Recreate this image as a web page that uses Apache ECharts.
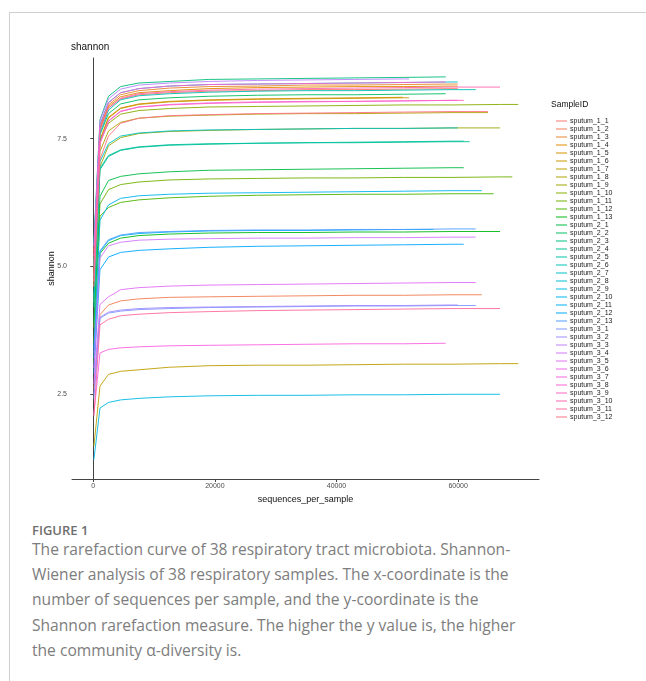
<!DOCTYPE html>
<html>
<head>
<meta charset="utf-8">
<script src="https://cdn.jsdelivr.net/npm/echarts@6/dist/echarts.min.js"></script>
<style>
  body { margin: 0; background: #fff; }
  #page { position: relative; width: 646px; height: 681px; overflow: hidden; }
  #chart { position: absolute; left: 0; top: 0; width: 646px; height: 510px; }
  .frame-top { position: absolute; left: 9px; top: 12px; width: 640px; height: 0; border-top: 1px solid #cfcfcf; }
  .frame-left { position: absolute; left: 9px; top: 12px; width: 0; height: 680px; border-left: 1px solid #cfcfcf; }
  #fig { position: absolute; left: 32px; top: 521px; font-family: "Open Sans", sans-serif; font-size: 13px; font-weight: 600; color: #6e6e6e; }
  #caption { position: absolute; left: 32px; top: 537px; width: 600px; font-family: "Open Sans", sans-serif; font-size: 15.6px; line-height: 25.2px; color: #7d7d7d; }
</style>
</head>
<body>
<div id="page">
  <div class="frame-top"></div>
  <div class="frame-left"></div>
  <div id="chart"></div>
  <div id="fig">FIGURE 1</div>
  <div id="caption">The rarefaction curve of 38 respiratory tract microbiota. Shannon-<br>Wiener analysis of 38 respiratory samples. The x-coordinate is the<br>number of sequences per sample, and the y-coordinate is the<br>Shannon rarefaction measure. The higher the y value is, the higher<br>the community α-diversity is.</div>
</div>
<script>
// rarefaction depths; the last value of each sample is drawn at its own end depth
const depthSteps = [100, 1100, 2500, 4500, 7500, 12500, 19000, 27000, 35000, 43000, 51000, 59000, 67000];

const sampleIds = [
  'sputum_1_1', 'sputum_1_2', 'sputum_1_3', 'sputum_1_4', 'sputum_1_5', 'sputum_1_6', 'sputum_1_7',
  'sputum_1_8', 'sputum_1_9', 'sputum_1_10', 'sputum_1_11', 'sputum_1_12', 'sputum_1_13',
  'sputum_2_1', 'sputum_2_2', 'sputum_2_3', 'sputum_2_4', 'sputum_2_5', 'sputum_2_6', 'sputum_2_7',
  'sputum_2_8', 'sputum_2_9', 'sputum_2_10', 'sputum_2_11', 'sputum_2_12', 'sputum_2_13',
  'sputum_3_1', 'sputum_3_2', 'sputum_3_3', 'sputum_3_4', 'sputum_3_5', 'sputum_3_6', 'sputum_3_7',
  'sputum_3_8', 'sputum_3_9', 'sputum_3_10', 'sputum_3_11', 'sputum_3_12'
];

const endDepths = [
  59930, 63880, 59930, 59930, 50940, 51930, 69890, 64910, 66890, 69890, 68910, 65850, 66890,
  60920, 57960, 57960, 61900, 60920, 62890, 59930, 59930, 66890, 63880, 55920, 60920, 62890,
  62890, 59930, 51930, 62890, 62890, 59930, 57960, 57960, 60920, 66890, 66890, 64910
];

const shannonValues = [
  [5.0, 7.68, 8.10, 8.28, 8.36, 8.40, 8.43, 8.44, 8.46, 8.46, 8.47, 8.48, 8.48],
  [2.6, 4.05, 4.24, 4.32, 4.36, 4.39, 4.40, 4.41, 4.42, 4.43, 4.43, 4.44, 4.44],
  [5.3, 7.73, 8.16, 8.36, 8.44, 8.49, 8.52, 8.53, 8.55, 8.55, 8.56, 8.57, 8.57],
  [5.1, 7.70, 8.13, 8.32, 8.40, 8.44, 8.48, 8.50, 8.51, 8.52, 8.52, 8.53, 8.53],
  [4.9, 7.48, 7.92, 8.10, 8.18, 8.23, 8.26, 8.28, 8.29, 8.30, 8.31],
  [4.8, 7.45, 7.90, 8.09, 8.17, 8.22, 8.25, 8.27, 8.28, 8.29, 8.30, 8.30],
  [1.47, 2.65, 2.88, 2.94, 2.97, 3.02, 3.05, 3.06, 3.06, 3.07, 3.08, 3.08, 3.09, 3.09],
  [4.6, 7.25, 7.65, 7.82, 7.90, 7.94, 7.96, 7.98, 7.99, 7.99, 8.00, 8.01, 8.01],
  [4.3, 6.95, 7.36, 7.52, 7.60, 7.64, 7.66, 7.68, 7.69, 7.70, 7.70, 7.71, 7.71],
  [4.7, 7.45, 7.80, 7.98, 8.05, 8.09, 8.12, 8.13, 8.14, 8.15, 8.16, 8.16, 8.17, 8.17],
  [3.8, 6.22, 6.50, 6.60, 6.65, 6.69, 6.71, 6.72, 6.73, 6.73, 6.74, 6.74, 6.75, 6.75],
  [3.5, 5.98, 6.15, 6.25, 6.30, 6.34, 6.37, 6.39, 6.40, 6.41, 6.41, 6.42, 6.42],
  [3.1, 5.25, 5.45, 5.55, 5.60, 5.63, 5.65, 5.66, 5.66, 5.67, 5.67, 5.68, 5.68],
  [3.9, 6.37, 6.68, 6.76, 6.81, 6.85, 6.88, 6.89, 6.90, 6.91, 6.92, 6.93, 6.93],
  [5.0, 7.58, 7.99, 8.18, 8.26, 8.30, 8.33, 8.35, 8.36, 8.36, 8.37, 8.38],
  [5.5, 7.87, 8.33, 8.52, 8.59, 8.62, 8.66, 8.67, 8.68, 8.69, 8.70, 8.71],
  [4.2, 6.89, 7.15, 7.27, 7.33, 7.37, 7.39, 7.41, 7.42, 7.42, 7.43, 7.44, 7.44],
  [4.3, 6.92, 7.17, 7.28, 7.34, 7.38, 7.40, 7.41, 7.42, 7.43, 7.44, 7.45, 7.45],
  [5.0, 7.60, 8.06, 8.26, 8.34, 8.38, 8.41, 8.43, 8.44, 8.44, 8.45, 8.46, 8.46],
  [4.4, 7.05, 7.40, 7.55, 7.61, 7.65, 7.67, 7.68, 7.69, 7.70, 7.70, 7.71, 7.71],
  [5.4, 7.78, 8.21, 8.40, 8.48, 8.53, 8.56, 8.57, 8.58, 8.59, 8.60, 8.61, 8.61],
  [1.21, 2.22, 2.33, 2.38, 2.41, 2.44, 2.46, 2.47, 2.47, 2.48, 2.48, 2.49, 2.49],
  [3.4, 5.90, 6.20, 6.33, 6.38, 6.41, 6.43, 6.44, 6.45, 6.46, 6.47, 6.48, 6.48],
  [3.2, 5.28, 5.50, 5.60, 5.64, 5.67, 5.69, 5.70, 5.70, 5.71, 5.72, 5.72],
  [2.9, 4.93, 5.18, 5.27, 5.31, 5.34, 5.37, 5.39, 5.40, 5.41, 5.42, 5.43, 5.43],
  [3.3, 5.30, 5.52, 5.61, 5.66, 5.68, 5.70, 5.71, 5.71, 5.72, 5.72, 5.73, 5.73],
  [2.4, 3.98, 4.08, 4.12, 4.15, 4.17, 4.19, 4.20, 4.21, 4.22, 4.22, 4.23, 4.23],
  [2.5, 4.00, 4.10, 4.14, 4.17, 4.19, 4.20, 4.21, 4.22, 4.23, 4.23, 4.24, 4.24],
  [5.4, 7.85, 8.28, 8.47, 8.55, 8.59, 8.62, 8.64, 8.65, 8.66, 8.67, 8.67],
  [3.0, 5.16, 5.40, 5.47, 5.51, 5.53, 5.54, 5.55, 5.55, 5.56, 5.56, 5.57, 5.57],
  [2.7, 4.25, 4.40, 4.54, 4.58, 4.61, 4.63, 4.64, 4.65, 4.66, 4.67, 4.68, 4.68],
  [4.8, 7.42, 7.85, 8.04, 8.12, 8.17, 8.20, 8.22, 8.23, 8.23, 8.24, 8.25, 8.25],
  [2.1, 3.30, 3.37, 3.40, 3.42, 3.44, 3.45, 3.46, 3.47, 3.48, 3.48, 3.49],
  [5.2, 7.76, 8.20, 8.40, 8.48, 8.53, 8.56, 8.57, 8.58, 8.59, 8.60, 8.61],
  [4.7, 7.40, 7.84, 8.03, 8.12, 8.16, 8.19, 8.21, 8.22, 8.23, 8.24, 8.25, 8.25],
  [5.0, 7.66, 8.10, 8.29, 8.38, 8.42, 8.45, 8.47, 8.48, 8.49, 8.50, 8.51, 8.51],
  [2.06, 3.85, 3.96, 4.03, 4.06, 4.09, 4.11, 4.13, 4.14, 4.15, 4.16, 4.17, 4.17],
  [4.6, 7.10, 7.55, 7.80, 7.90, 7.95, 7.97, 7.99, 8.00, 8.01, 8.02, 8.03, 8.03]
];

const xTicks = [0, 20000, 40000, 60000];
const yTicks = [2.5, 5, 7.5];

// ggplot2 default hue palette (hcl, c=100, l=65)
function hueColor(h) {
  const c = 100, l = 65;
  const hr = h * Math.PI / 180;
  const u = c * Math.cos(hr), v = c * Math.sin(hr);
  const Xn = 95.047, Yn = 100, Zn = 108.883;
  const un = 4 * Xn / (Xn + 15 * Yn + 3 * Zn), vn = 9 * Yn / (Xn + 15 * Yn + 3 * Zn);
  const Y = Yn * Math.pow((l + 16) / 116, 3);
  const up = u / (13 * l) + un, vp = v / (13 * l) + vn;
  const X = Y * 9 * up / (4 * vp);
  const Z = Y * (12 - 3 * up - 20 * vp) / (4 * vp);
  const x = X / 100, y = Y / 100, z = Z / 100;
  const lin = [
    3.2404542 * x - 1.5371385 * y - 0.4985314 * z,
    -0.9692660 * x + 1.8760108 * y + 0.0415560 * z,
    0.0556434 * x - 0.2040259 * y + 1.0572252 * z
  ];
  return '#' + lin.map(function (t) {
    t = t <= 0.0031308 ? 12.92 * t : 1.055 * Math.pow(t, 1 / 2.4) - 0.055;
    t = Math.max(0, Math.min(1, t));
    return Math.round(t * 255).toString(16).padStart(2, '0');
  }).join('');
}
const colors = sampleIds.map(function (d, i) { return hueColor(15 + i * 360 / sampleIds.length); });

const series = sampleIds.map(function (name, s) {
  const vals = shannonValues[s];
  return {
    name: name,
    type: 'line',
    symbol: 'none',
    silent: true,
    lineStyle: { width: 1, opacity: 0.9 },
    data: vals.map(function (v, i) {
      return [i === vals.length - 1 ? endDepths[s] : depthSteps[i], v];
    })
  };
});

const font = '"Liberation Sans", Arial, sans-serif';
const chart = echarts.init(document.getElementById('chart'));
chart.setOption({
  animation: false,
  color: colors,
  grid: { left: 72, right: 107, top: 58, bottom: 31, containLabel: false },
  graphic: [
    { type: 'text', left: 71, top: 42, style: { text: 'shannon', font: '10px ' + font, fill: '#111' } },
    { type: 'text', left: 551, top: 100, style: { text: 'SampleID', font: '8.5px ' + font, fill: '#111' } }
  ],
  legend: {
    orient: 'vertical',
    left: 551,
    top: 112,
    icon: 'rect',
    itemWidth: 11,
    itemHeight: 1,
    itemGap: 0,
    selectedMode: false,
    textStyle: { fontSize: 7, lineHeight: 8, fontFamily: font, color: '#222', padding: [0, 0, 0, -2] },
    data: sampleIds
  },
  xAxis: {
    type: 'value',
    min: -3500,
    max: 73300,
    name: 'sequences_per_sample',
    nameLocation: 'middle',
    nameGap: 13,
    nameTextStyle: { fontSize: 9, fontFamily: font, color: '#111' },
    axisLine: { lineStyle: { color: '#444', width: 1 } },
    axisTick: { show: true, length: 3, customValues: xTicks, lineStyle: { color: '#444' } },
    axisLabel: {
      customValues: xTicks, fontSize: 7, margin: 4, fontFamily: font, color: '#4d4d4d',
      formatter: function (v) { return String(v); }
    },
    splitLine: { show: false }
  },
  yAxis: {
    type: 'value',
    min: 0.83,
    max: 9.08,
    name: 'shannon',
    nameLocation: 'middle',
    nameRotate: 90,
    nameGap: 16,
    nameMoveOverlap: false,
    nameTextStyle: { fontSize: 9, fontFamily: font, color: '#111' },
    axisLine: { show: true, lineStyle: { color: '#444', width: 1 } },
    axisTick: { show: true, length: 3, customValues: yTicks, lineStyle: { color: '#444' } },
    axisLabel: {
      customValues: yTicks, fontSize: 7, margin: 5, fontFamily: font, color: '#4d4d4d',
      formatter: function (v) { return v.toFixed(1); }
    },
    splitLine: { show: false }
  },
  series: series
});
</script>
</body>
</html>
